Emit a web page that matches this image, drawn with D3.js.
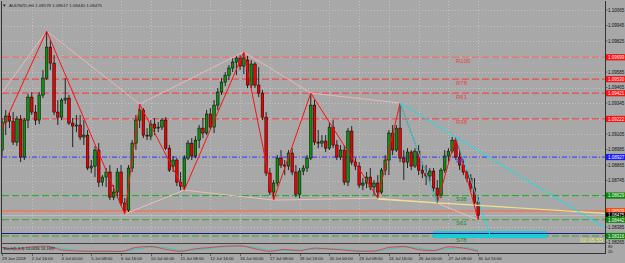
<!DOCTYPE html>
<html><head><meta charset="utf-8">
<script src="https://cdn.jsdelivr.net/npm/d3@7"></script>
<style>
html,body{margin:0;padding:0;background:#a8a8a8;overflow:hidden}
svg{display:block}
text{font-family:"Liberation Sans",Arial,sans-serif}
</style></head><body>
<svg id="c" width="625" height="263"></svg>
<script>
// ---------- DATA ----------
const open = [1.08981,1.09198,1.09244,1.09205,1.09043,1.09221,1.08927,1.09213,1.09391,1.09275,
1.09213,1.09407,1.09538,1.09778,1.09654,1.09275,1.09236,1.09368,1.09383,1.09190,
1.09167,1.09175,1.09082,1.09097,1.08842,1.08857,1.08981,1.08733,1.08772,1.08811,
1.08617,1.08656,1.08811,1.08571,1.08517,1.08842,1.09035,1.09213,1.09291,1.09097,
1.09089,1.09182,1.09151,1.09159,1.09213,1.08996,1.08857,1.08904,1.08733,1.08702,
1.08919,1.09035,1.08935,1.09058,1.09151,1.09113,1.09260,1.09159,1.09329,1.09430,
1.09507,1.09561,1.09616,1.09662,1.09693,1.09631,1.09678,1.09484,1.09647,1.09484,
1.09422,1.09236,1.08803,1.08656,1.08726,1.08919,1.08865,1.08857,1.08958,1.08811,
1.08640,1.08819,1.08842,1.08919,1.09329,1.09043,1.09035,1.09051,1.08996,1.09159,
1.09020,1.08927,1.08981,1.08733,1.09128,1.08888,1.08857,1.08710,1.08726,1.08772,
1.08695,1.08726,1.08656,1.08826,1.08904,1.09113,1.08981,1.09151,1.08919,1.08888,
1.08966,1.08857,1.08973,1.08826,1.08803,1.08780,1.08819,1.08687,1.08633,1.08826,
1.08935,1.08973,1.09058,1.08927,1.08865,1.08811,1.08764,1.08687,1.08578];
const high = [1.09229,1.09291,1.09275,1.09275,1.09244,1.09252,1.09229,1.09414,1.09430,1.09329,
1.09430,1.09600,1.09902,1.09832,1.09716,1.09368,1.09383,1.09538,1.09407,1.09229,
1.09252,1.09252,1.09213,1.09136,1.08904,1.09012,1.09035,1.08787,1.08842,1.08865,
1.08710,1.08842,1.08865,1.08609,1.08865,1.09058,1.09252,1.09337,1.09306,1.09151,
1.09213,1.09229,1.09198,1.09229,1.09236,1.09020,1.08935,1.08919,1.08811,1.08942,
1.09058,1.09074,1.09089,1.09175,1.09229,1.09291,1.09306,1.09368,1.09461,1.09538,
1.09585,1.09639,1.09693,1.09716,1.09716,1.09740,1.09709,1.09678,1.09662,1.09623,
1.09445,1.09275,1.08842,1.08749,1.08942,1.08981,1.08904,1.08981,1.08996,1.08865,
1.08842,1.08865,1.08942,1.09422,1.09368,1.09136,1.09097,1.09097,1.09198,1.09213,
1.09058,1.09020,1.09020,1.09151,1.09167,1.08919,1.08888,1.08764,1.08811,1.08842,
1.08749,1.08787,1.08842,1.08942,1.09136,1.09175,1.09175,1.09345,1.08981,1.08996,
1.08981,1.08996,1.09020,1.08888,1.08865,1.08842,1.08842,1.08749,1.08842,1.08981,
1.08996,1.09082,1.09082,1.08981,1.08919,1.08826,1.08795,1.08764,1.08617];
const low = [1.08935,1.09097,1.09151,1.09020,1.09012,1.08888,1.08904,1.09151,1.09252,1.09175,
1.09182,1.09383,1.09523,1.09600,1.09252,1.09175,1.09213,1.09337,1.09175,1.09004,
1.09120,1.09058,1.09020,1.08826,1.08803,1.08772,1.08695,1.08702,1.08695,1.08594,
1.08594,1.08609,1.08548,1.08486,1.08501,1.08811,1.08981,1.09151,1.09074,1.09058,
1.09058,1.09097,1.09120,1.09136,1.08981,1.08811,1.08811,1.08702,1.08671,1.08671,
1.08904,1.08904,1.08919,1.08996,1.09074,1.09097,1.09136,1.09113,1.09291,1.09407,
1.09476,1.09523,1.09585,1.09561,1.09600,1.09569,1.09461,1.09461,1.09461,1.09391,
1.09213,1.08780,1.08633,1.08594,1.08702,1.08842,1.08787,1.08826,1.08787,1.08617,
1.08609,1.08787,1.08811,1.08904,1.09020,1.08996,1.09004,1.08966,1.08981,1.08996,
1.08904,1.08904,1.08710,1.08702,1.08865,1.08826,1.08687,1.08671,1.08687,1.08671,
1.08633,1.08609,1.08640,1.08787,1.08787,1.08942,1.08966,1.08888,1.08749,1.08842,
1.08826,1.08842,1.08787,1.08764,1.08710,1.08733,1.08656,1.08571,1.08609,1.08803,
1.08888,1.08958,1.08904,1.08826,1.08787,1.08733,1.08656,1.08563,1.08440];
const close = [1.09198,1.09244,1.09205,1.09043,1.09221,1.08927,1.09213,1.09391,1.09275,1.09213,
1.09407,1.09538,1.09778,1.09654,1.09275,1.09236,1.09368,1.09383,1.09190,1.09167,
1.09175,1.09082,1.09097,1.08842,1.08857,1.08981,1.08733,1.08772,1.08811,1.08617,
1.08656,1.08811,1.08571,1.08517,1.08842,1.09035,1.09213,1.09291,1.09097,1.09089,
1.09182,1.09151,1.09159,1.09213,1.08996,1.08826,1.08904,1.08733,1.08702,1.08919,
1.09035,1.08935,1.09058,1.09151,1.09113,1.09260,1.09159,1.09329,1.09430,1.09507,
1.09561,1.09616,1.09662,1.09693,1.09631,1.09693,1.09484,1.09647,1.09484,1.09422,
1.09236,1.08803,1.08656,1.08726,1.08919,1.08865,1.08857,1.08958,1.08811,1.08640,
1.08819,1.08842,1.08919,1.09329,1.09043,1.09035,1.09051,1.08996,1.09159,1.09020,
1.08927,1.08981,1.08733,1.09128,1.08888,1.08857,1.08710,1.08726,1.08772,1.08695,
1.08726,1.08656,1.08826,1.08904,1.09113,1.08981,1.09151,1.08919,1.08888,1.08966,
1.08857,1.08973,1.08826,1.08803,1.08780,1.08819,1.08687,1.08633,1.08826,1.08935,
1.08973,1.09058,1.08927,1.08865,1.08811,1.08764,1.08687,1.08578,1.08475];

const dateIdx = [0,8,16,24,32,40,48,56,64,72,80,88,96,104,112,120,128];
const dateLabels = ["29 Jun 2018","2 Jul 16:00","4 Jul 00:00","5 Jul 08:00","6 Jul 16:00","10 Jul 00:00","11 Jul 08:00","12 Jul 16:00","16 Jul 00:00","17 Jul 08:00","18 Jul 16:00","20 Jul 00:00","23 Jul 08:00","24 Jul 16:00","26 Jul 00:00","27 Jul 08:00","30 Jul 16:00"];
const priceTicks = [1.10065,1.09945,1.09825,1.09705,1.09585,1.09465,1.09345,1.09225,1.09105,1.08985,1.08865,1.08745,1.08625,1.08505,1.08385,1.08265];

const levelNames = ["R100","R78","R61","R38","PP","S38","S61","S78"];
const levelPrices = [1.09699,1.09530,1.09421,1.09222,1.08927,1.08629,1.08442,1.08316];
const orangeLevel = 1.08509;
const navyLevel = 1.08338;
const bidPrice = 1.08475;

const zigIdx = [-4,12,33,37,49,65,73,83,101,107,117,122,128];
const zigPrice = [1.08896,1.09902,1.08486,1.09337,1.08671,1.09740,1.08594,1.09422,1.08609,1.09345,1.08571,1.09082,1.08440];
const pinkHiIdx = [-4,12,37,65,83,107];
const pinkHiPrice = [1.09267,1.09902,1.09337,1.09740,1.09422,1.09345];
const pinkLoIdx = [33,49,73,101,117,128];
const pinkLoPrice = [1.08486,1.08671,1.08594,1.08609,1.08571,1.08440];
const yellowIdx = [101,128];
const yellowPrice = [1.08602,1.08553];
const cyanTrendIdx = [107,122];
const cyanTrendPrice = [1.09345,1.09082];
const cyanSeg1Idx = [107,117];
const cyanSeg1Price = [1.09345,1.08571];
const cyanSeg2Idx = [122,131.2];
const cyanSeg2Price = [1.09082,1.08323];
const cyanBoxIdx = [115.9,146.5];
const cyanBoxPrice = [1.08354,1.08300];

const oscIdx = [0,4,8,12,16,20,24,28,32,36,40,44,48,52,56,60,64,68,72,76,80,84,88,92,96,100,104,108,112,116,120,124,128];
const oscMain = [70,50,80,90,30,15,10,12,8,70,85,40,10,50,70,90,95,50,10,40,20,60,45,30,10,15,70,85,35,20,80,60,10];
const oscSignal = [65,60,65,85,55,25,12,10,10,40,75,65,25,30,60,80,92,70,30,25,30,40,50,40,20,12,40,78,60,28,50,70,30];

// ---------- DRAW ----------
const svg = d3.select('#c');
svg.append('rect').attr('width',625).attr('height',263).attr('fill','#a8a8a8');
const x = d3.scaleLinear().domain([0,128]).range([2,478.2]);
const y = d3.scaleLinear().domain([1.08265,1.10065]).range([242.6,10]);
const ys = d3.scaleLinear().domain([0,100]).range([252,245.5]);
const R = 605, B = 243;
const rightIdx = x.invert(R);

svg.append('defs').append('clipPath').attr('id','clip')
  .append('rect').attr('x',2).attr('y',1).attr('width',R-2).attr('height',B-1);
const g = svg.append('g').attr('clip-path','url(#clip)');

// grid
g.append('g').selectAll('line').data(priceTicks).join('line')
  .attr('x1',2).attr('x2',R).attr('y1',d=>Math.round(y(d))+0.5).attr('y2',d=>Math.round(y(d))+0.5)
  .attr('stroke','#c8c8c8').attr('stroke-width',0.8).attr('stroke-dasharray','1,2');
g.append('g').selectAll('line').data(dateIdx.slice(1)).join('line')
  .attr('x1',d=>Math.round(x(d))+0.5).attr('x2',d=>Math.round(x(d))+0.5).attr('y1',1).attr('y2',B)
  .attr('stroke','#c8c8c8').attr('stroke-width',0.8).attr('stroke-dasharray','1,2');

// horizontal levels
const lvlColor = n => (n.charAt(0)==='R') ? '#f04a4a' : (n==='PP' ? '#4848ff' : '#2eaa2e');
g.append('line').attr('x1',2).attr('x2',R).attr('y1',y(orangeLevel)).attr('y2',y(orangeLevel))
  .attr('stroke','#d9856f').attr('stroke-width',2.2);
g.append('line').attr('x1',2).attr('x2',R).attr('y1',y(bidPrice)).attr('y2',y(bidPrice))
  .attr('stroke','#c4c4c4').attr('stroke-width',0.8);
g.append('g').selectAll('line').data(levelNames).join('line')
  .attr('x1',2).attr('x2',R)
  .attr('y1',(d,i)=>y(levelPrices[i])).attr('y2',(d,i)=>y(levelPrices[i]))
  .style('stroke',d=>d==='R100'?'#e07a72':lvlColor(d))
  .attr('stroke-width',d=>d==='R100'?1.6:1.2)
  .attr('stroke-dasharray',d=>d==='PP'?'5,2,1,2':'7,3');

// cyan box + navy line
g.append('rect').attr('x',x(cyanBoxIdx[0])).attr('width',x(cyanBoxIdx[1])-x(cyanBoxIdx[0]))
  .attr('y',y(cyanBoxPrice[0])).attr('height',y(cyanBoxPrice[1])-y(cyanBoxPrice[0]))
  .attr('fill','#1ccbd6');
g.append('line').attr('x1',2).attr('x2',R).attr('y1',Math.round(y(navyLevel))+0.5).attr('y2',Math.round(y(navyLevel))+0.5)
  .attr('stroke','#1c1c8c').attr('stroke-width',1);

// candles
const idx = d3.range(open.length);
const cg = g.append('g');
cg.append('g').selectAll('line').data(idx).join('line')
  .attr('x1',i=>x(i)).attr('x2',i=>x(i)).attr('y1',i=>y(high[i])).attr('y2',i=>y(low[i]))
  .attr('stroke','#000').attr('stroke-width',0.8);
cg.append('g').selectAll('rect').data(idx).join('rect')
  .attr('x',i=>x(i)-1.3).attr('width',2.6)
  .attr('y',i=>y(Math.max(open[i],close[i])))
  .attr('height',i=>Math.max(0.6,Math.abs(y(open[i])-y(close[i]))))
  .attr('fill',i=>close[i]>=open[i]?'#0f8f0f':'#ee0000')
  .attr('stroke','#000').attr('stroke-width',0.5);

// lines
const ln = d3.line().x(d=>x(d[0])).y(d=>y(d[1]));
const pairs = (a,b)=>a.map((v,i)=>[v,b[i]]);
const ext = (ix,pr)=>{const s=(pr[1]-pr[0])/(ix[1]-ix[0]);return [[ix[0],pr[0]],[rightIdx,pr[0]+s*(rightIdx-ix[0])]];};
g.append('path').attr('d',ln(pairs(pinkHiIdx,pinkHiPrice))).attr('fill','none').attr('stroke','#f2b9b9').attr('stroke-width',0.9);
g.append('path').attr('d',ln(pairs(pinkLoIdx,pinkLoPrice))).attr('fill','none').attr('stroke','#f0c0c0').attr('stroke-width',0.9);
g.append('path').attr('d',ln(ext(yellowIdx,yellowPrice))).attr('fill','none').attr('stroke','#ece58a').attr('stroke-width',1.2);
g.append('path').attr('d',ln(pairs(zigIdx,zigPrice))).attr('fill','none').attr('stroke','#ff1010').attr('stroke-width',1);
g.append('path').attr('d',ln(ext(cyanTrendIdx,cyanTrendPrice))).attr('fill','none').attr('stroke','#10e0ee').attr('stroke-width',1);
g.append('path').attr('d',ln(pairs(cyanSeg1Idx,cyanSeg1Price))).attr('fill','none').attr('stroke','#10e0ee').attr('stroke-width',1);
g.append('path').attr('d',ln(pairs(cyanSeg2Idx,cyanSeg2Price))).attr('fill','none').attr('stroke','#10e0ee').attr('stroke-width',1);

// level names
g.append('g').selectAll('text').data(levelNames).join('text')
  .attr('x',456).attr('y',(d,i)=>y(levelPrices[i])+5.5)
  .attr('font-size',6).style('fill',d=>d.charAt(0)==='R'?'#ee4040':(d==='PP'?'#3c3cf0':'#1f8a1f'))
  .text(d=>d);

// frame
svg.append('line').attr('x1',1.5).attr('x2',1.5).attr('y1',1).attr('y2',253).attr('stroke','#333').attr('stroke-width',1);
svg.append('line').attr('x1',R+0.5).attr('x2',R+0.5).attr('y1',1).attr('y2',254).attr('stroke','#333').attr('stroke-width',1);
svg.append('line').attr('x1',1).attr('x2',R+1).attr('y1',B+0.5).attr('y2',B+0.5).attr('stroke','#444').attr('stroke-width',1.2);
svg.append('line').attr('x1',1).attr('x2',R+1).attr('y1',253.5).attr('y2',253.5).attr('stroke','#333').attr('stroke-width',1);

// title
svg.append('text').attr('x',2).attr('y',7).attr('font-size',4.5).attr('fill','#222').text('▼');
svg.append('text').attr('x',9).attr('y',7).attr('font-size',4.3).attr('fill','#222')
  .attr('textLength',93).attr('lengthAdjust','spacingAndGlyphs')
  .text('AUDNZD,H4  1.08578 1.08617 1.08440 1.08475');

// timer
svg.append('text').attr('x',580).attr('y',241.5).attr('font-size',5.5).attr('fill','#eded5a')
  .attr('textLength',23).attr('lengthAdjust','spacingAndGlyphs').text('02:05:55');

// right axis
svg.append('g').selectAll('text').data(priceTicks).join('text')
  .attr('x',608).attr('y',d=>y(d)+1.8).attr('font-size',4.5).attr('fill','#111').text(d=>d.toFixed(5));
svg.append('g').selectAll('line').data(priceTicks).join('line')
  .attr('x1',R).attr('x2',R+2.5).attr('y1',d=>y(d)).attr('y2',d=>y(d)).attr('stroke','#333').attr('stroke-width',0.6);

const boxes = levelNames.map((n,i)=>({p:levelPrices[i],c:n.charAt(0)==='R'?'#ff1010':(n==='PP'?'#1a1aff':'#0a860a')}));
boxes.push({p:orangeLevel,c:'#ff4a10'});
boxes.push({p:bidPrice,c:'#000'});
boxes.sort((a,b)=>b.p-a.p);
const bx = svg.append('g').selectAll('g').data(boxes).join('g').attr('transform',d=>`translate(606,${y(d.p)})`);
bx.append('rect').attr('x',0).attr('y',-3.1).attr('width',19).attr('height',6.2).attr('fill',d=>d.c);
bx.append('text').attr('x',2).attr('y',1.8).attr('font-size',4.5).attr('fill','#fff').text(d=>d.p.toFixed(5));

// sub window
const og = svg.append('g');
og.append('path').attr('d',d3.line().curve(d3.curveMonotoneX).x(d=>x(d[0])).y(d=>ys(d[1]))(pairs(oscIdx,oscSignal)))
  .attr('fill','none').attr('stroke','#20c8c8').attr('stroke-width',0.8);
og.append('path').attr('d',d3.line().curve(d3.curveMonotoneX).x(d=>x(d[0])).y(d=>ys(d[1]))(pairs(oscIdx,oscMain)))
  .attr('fill','none').attr('stroke','#e83030').attr('stroke-width',0.8);
svg.append('text').attr('x',3).attr('y',249.5).attr('font-size',4.3).attr('fill','#111')
  .attr('textLength',52).attr('lengthAdjust','spacingAndGlyphs').text('Stoch(5,3,3) 14.0636 18.1897');
svg.append('text').attr('x',608).attr('y',248).attr('font-size',4).attr('fill','#111').text('80');
svg.append('text').attr('x',608).attr('y',252.5).attr('font-size',4).attr('fill','#111').text('20');

// date axis
svg.append('g').selectAll('text').data(dateIdx).join('text')
  .attr('x',(d,i)=>i===0?2:x(d)).attr('y',259.5).attr('font-size',4.3).attr('fill','#111')
  .text((d,i)=>dateLabels[i]);
svg.append('g').selectAll('line').data(dateIdx).join('line')
  .attr('x1',d=>Math.round(x(d))+0.5).attr('x2',d=>Math.round(x(d))+0.5).attr('y1',253.5).attr('y2',256)
  .attr('stroke','#333').attr('stroke-width',0.6);
</script>
</body></html>
